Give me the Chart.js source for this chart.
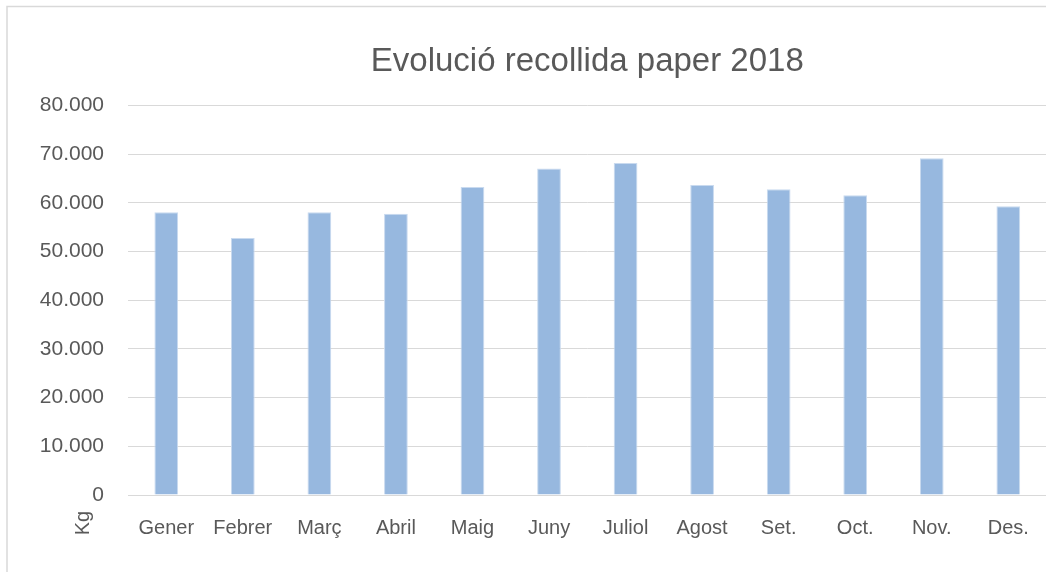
<!DOCTYPE html>
<html>
<head>
<meta charset="utf-8">
<script src="https://cdn.jsdelivr.net/npm/chart.js@4"></script>
<style>
  body { margin: 0; background: #fff; overflow: hidden; }
  #wrap { width: 1046px; height: 572px; overflow: hidden; }
</style>
</head>
<body>
<div id="wrap"><canvas id="paperChart" width="1050" height="572"></canvas></div>
<script>
// dades recollida paper 2018 (kg)
const mesos = ["Gener", "Febrer", "Març", "Abril", "Maig", "Juny", "Juliol", "Agost", "Set.", "Oct.", "Nov.", "Des."];
const kgPaper = [58100, 52800, 58100, 57800, 63300, 67100, 68200, 63700, 62800, 61600, 69200, 59300];
const titol = "Evolució recollida paper 2018";
const etiquetaEix = "Kg";

const textColor = "#595959";
const fontFamily = "'Liberation Sans', Arial, sans-serif";

// marc gris + text "Kg" sota l'eix
const marcPlugin = {
	id: "marc",
	beforeDraw(chart) {
		const c = chart.ctx;
		c.save();
		c.fillStyle = "#fff";
		c.fillRect(0, 0, chart.width, chart.height);
		c.strokeStyle = "#d9d9d9";
		c.lineWidth = 1.5;
		c.strokeRect(7, 6.5, 1100, 600);
		c.restore();
	},
	afterDraw(chart) {
		const c = chart.ctx;
		c.save();
		c.translate(83, 523);
		c.rotate(-Math.PI / 2);
		c.fillStyle = textColor;
		c.font = "20px " + fontFamily;
		c.textAlign = "center";
		c.textBaseline = "middle";
		c.fillText(etiquetaEix, 0, 0);
		c.restore();
	},
};

new Chart(document.getElementById("paperChart").getContext("2d"), {
	type: "bar",
	data: {
		labels: mesos,
		datasets: [
			{
				label: "Kg",
				data: kgPaper,
				backgroundColor: "#97B8DF",
				borderColor: "#C9DAEF",
				borderWidth: 1,
				categoryPercentage: 1,
				barPercentage: 0.31,
			},
		],
	},
	options: {
		responsive: false,
		animation: false,
		layout: { padding: { left: 0, right: 0, top: 0, bottom: 0 } },
		plugins: {
			legend: { display: false },
			tooltip: { enabled: false },
			title: {
				display: true,
				text: titol,
				color: textColor,
				font: { family: fontFamily, size: 33, weight: "normal" },
				padding: { top: 42, bottom: 24 },
				fullSize: false,
			},
		},
		scales: {
			x: {
				grid: { display: false, drawTicks: false },
				border: { color: "#d9d9d9", width: 1 },
				ticks: {
					color: textColor,
					font: { family: fontFamily, size: 20 },
					padding: 21,
					maxRotation: 0,
					autoSkip: false,
				},
				afterFit(scale) { scale.height = 77; },
			},
			y: {
				min: 0,
				max: 80000,
				grid: { color: "#d9d9d9", lineWidth: 1, drawTicks: false },
				border: { display: false },
				ticks: {
					stepSize: 10000,
					color: textColor,
					font: { family: fontFamily, size: 21 },
					padding: 24,
					callback: (v) => v === 0 ? "0" : v.toLocaleString("de-DE"),
				},
				afterFit(scale) { scale.width = 128; },
			},
		},
	},
	plugins: [marcPlugin],
});
</script>
</body>
</html>
